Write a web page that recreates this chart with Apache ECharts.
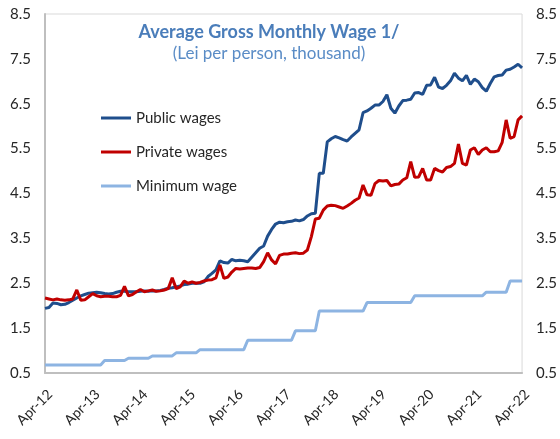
<!DOCTYPE html>
<html>
<head>
<meta charset="utf-8">
<script src="https://cdn.jsdelivr.net/npm/echarts@6/dist/echarts.min.js"></script>
<style>html,body{margin:0;padding:0;background:#fff}#c{width:560px;height:439px}</style>
</head>
<body>
<div id="c"></div>
<script>
// Monthly categories Apr-12 .. Apr-22 (121 months)
var monthNames = ['Jan','Feb','Mar','Apr','May','Jun','Jul','Aug','Sep','Oct','Nov','Dec'];
var categories = [];
for (var k = 0; k < 121; k++) {
  var m = (3 + k) % 12, y = 12 + Math.floor((3 + k) / 12);
  categories.push(monthNames[m] + '-' + y);
}

var publicWages = [
  1.94,1.96,2.06,2.05,2.02,2.03,2.07,2.12,2.17,2.22,2.25,2.28,
  2.29,2.30,2.29,2.27,2.26,2.27,2.30,2.32,2.32,2.31,2.31,2.31,
  2.32,2.33,2.32,2.33,2.33,2.34,2.36,2.39,2.40,2.42,2.44,2.47,
  2.48,2.50,2.50,2.50,2.53,2.65,2.72,2.80,3.00,2.96,2.95,3.03,
  3.00,3.01,3.00,2.98,3.08,3.18,3.28,3.33,3.55,3.70,3.82,3.86,
  3.85,3.87,3.88,3.91,3.89,3.92,4.00,4.05,4.06,4.95,4.95,5.65,
  5.72,5.77,5.74,5.70,5.67,5.76,5.84,5.92,6.30,6.34,6.40,6.47,
  6.47,6.55,6.70,6.40,6.29,6.45,6.57,6.58,6.60,6.74,6.75,6.71,
  6.91,6.92,7.09,6.87,6.84,6.91,7.01,7.18,7.07,7.01,7.13,6.93,
  7.05,6.99,6.86,6.78,6.95,7.10,7.13,7.14,7.25,7.27,7.32,7.38,
  7.30
];

var privateWages = [
  2.17,2.15,2.13,2.15,2.13,2.12,2.13,2.15,2.35,2.12,2.13,2.20,
  2.27,2.22,2.20,2.21,2.21,2.20,2.20,2.23,2.43,2.22,2.25,2.31,
  2.36,2.31,2.33,2.35,2.32,2.33,2.35,2.38,2.62,2.38,2.42,2.55,
  2.50,2.53,2.50,2.52,2.55,2.57,2.58,2.62,2.91,2.61,2.64,2.75,
  2.83,2.82,2.83,2.84,2.84,2.83,2.85,2.98,3.18,3.02,2.93,3.12,
  3.15,3.15,3.17,3.18,3.16,3.17,3.24,3.54,3.93,3.95,4.13,4.22,
  4.24,4.23,4.20,4.17,4.22,4.28,4.35,4.40,4.69,4.47,4.46,4.72,
  4.79,4.78,4.79,4.67,4.70,4.71,4.80,4.85,5.21,4.86,4.87,5.06,
  4.80,4.80,5.06,5.01,4.98,5.08,5.10,5.17,5.60,5.17,5.13,5.47,
  5.52,5.37,5.47,5.52,5.43,5.43,5.45,5.64,6.14,5.73,5.77,6.14,
  6.23
];

var minimumWage = [
  0.68,0.68,0.68,0.68,0.68,0.68,0.68,0.68,0.68,0.68,0.68,0.68,
  0.68,0.68,0.68,0.78,0.78,0.78,0.78,0.78,0.78,0.83,0.83,0.83,
  0.83,0.83,0.83,0.88,0.88,0.88,0.88,0.88,0.88,0.95,0.95,0.95,
  0.95,0.95,0.95,1.02,1.02,1.02,1.02,1.02,1.02,1.02,1.02,1.02,
  1.02,1.02,1.02,1.23,1.23,1.23,1.23,1.23,1.23,1.23,1.23,1.23,
  1.23,1.23,1.23,1.44,1.44,1.44,1.44,1.44,1.44,1.88,1.88,1.88,
  1.88,1.88,1.88,1.88,1.88,1.88,1.88,1.88,1.88,2.07,2.07,2.07,
  2.07,2.07,2.07,2.07,2.07,2.07,2.07,2.07,2.07,2.22,2.22,2.22,
  2.22,2.22,2.22,2.22,2.22,2.22,2.22,2.22,2.22,2.22,2.22,2.22,
  2.22,2.22,2.22,2.30,2.30,2.30,2.30,2.30,2.30,2.55,2.55,2.55,
  2.55
];

var seriesNames = ['Public wages', 'Private wages', 'Minimum wage'];
var seriesColors = ['#1f4e8c', '#c00000', '#8db4e2'];
var titleText = 'Average Gross Monthly Wage 1/';
var subtitleText = '(Lei per person, thousand)';

var FONT = 'Lato, "Open Sans", sans-serif';
var chart = echarts.init(document.getElementById('c'), null, {renderer: 'canvas'});

var yAxisCommon = {
  type: 'value', min: 0.5, max: 8.5, interval: 1,
  splitLine: {show: false},
  axisTick: {show: false},
  axisLabel: {color: '#262626', fontSize: 15, fontFamily: FONT, formatter: function (v) { return v.toFixed(1); }}
};

chart.setOption({
  animation: false,
  title: [
    {text: titleText, left: 264, top: 18, textAlign: 'center',
     textStyle: {color: '#4a7dba', fontSize: 18, fontWeight: 'bold', fontFamily: FONT}},
    {text: subtitleText, left: 264, top: 40, textAlign: 'center',
     textStyle: {color: '#5a8cc6', fontSize: 17, fontWeight: 'normal', fontFamily: FONT}}
  ],
  legend: {
    orient: 'vertical', left: 96, top: 103,
    itemWidth: 30, itemHeight: 3, itemGap: 14,
    icon: 'rect',
    textStyle: {color: '#262626', fontSize: 15, lineHeight: 20, fontFamily: FONT},
    data: seriesNames
  },
  grid: {left: 45, right: 36, top: 14, bottom: 66, show: true, borderColor: '#d9d9d9', borderWidth: 1},
  xAxis: {
    type: 'category', data: categories, boundaryGap: false,
    axisLine: {show: true, lineStyle: {color: '#bfbfbf', width: 2}},
    axisTick: {show: false},
    axisLabel: {interval: 11, rotate: 45, color: '#262626', fontSize: 14, fontFamily: FONT, margin: 14, verticalAlign: 'top'}
  },
  yAxis: [
    Object.assign({}, yAxisCommon, {position: 'left', axisLine: {show: true, lineStyle: {color: '#bfbfbf', width: 2}}, axisLabel: Object.assign({}, yAxisCommon.axisLabel, {margin: 14})}),
    Object.assign({}, yAxisCommon, {position: 'right', axisLine: {show: false}, axisLabel: Object.assign({}, yAxisCommon.axisLabel, {margin: 14})})
  ],
  series: [
    {name: seriesNames[0], type: 'line', data: publicWages, showSymbol: false, lineStyle: {color: seriesColors[0], width: 3}, itemStyle: {color: seriesColors[0]}, z: 3},
    {name: seriesNames[1], type: 'line', data: privateWages, showSymbol: false, lineStyle: {color: seriesColors[1], width: 3}, itemStyle: {color: seriesColors[1]}, z: 4},
    {name: seriesNames[2], type: 'line', data: minimumWage, showSymbol: false, lineStyle: {color: seriesColors[2], width: 3}, itemStyle: {color: seriesColors[2]}, z: 2}
  ]
});
</script>
</body>
</html>
